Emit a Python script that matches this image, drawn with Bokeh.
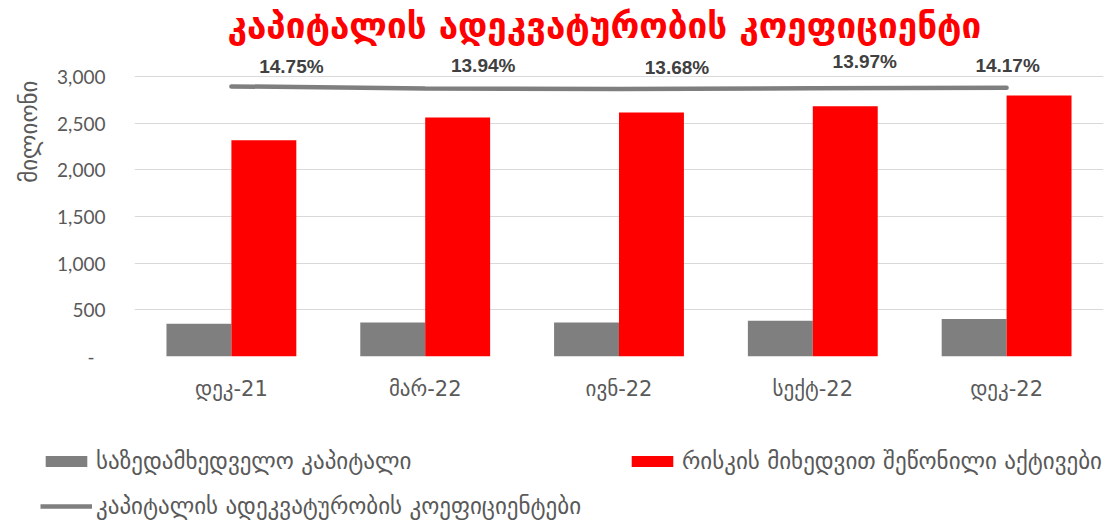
import math
from bokeh.plotting import figure
from bokeh.layouts import column
from bokeh.models import (ColumnDataSource, FactorRange, Range1d, FixedTicker, Legend,
                          LegendItem, LabelSet, Title, NumeralTickFormatter)
from bokeh.transform import dodge
from bokeh.core.properties import value
from bokeh.embed import file_html
from bokeh.resources import INLINE

# ---- data ----
categories = ["დეკ-21", "მარ-22", "ივნ-22", "სექტ-22", "დეკ-22"]
supervisory_capital = [350, 363, 363, 382, 403]
risk_weighted_assets = [2316, 2562, 2615, 2680, 2797]
car_ratio = [14.75, 13.94, 13.68, 13.97, 14.17]
ratio_labels = ["14.75%", "13.94%", "13.68%", "13.97%", "14.17%"]
y_ticks = [0, 500, 1000, 1500, 2000, 2500, 3000]

title_text = "კაპიტალის ადეკვატურობის კოეფიციენტი"
y_label_text = "მილიონი"
series_names = ["საზედამხედველო კაპიტალი",
                "რისკის მიხედვით შეწონილი აქტივები",
                "კაპიტალის ადეკვატურობის კოეფიციენტები"]

# label placement tweaks (pixels)
label_dx = [60, 58, 58, 52, 1]
label_dy = [20, 23, 22, 27, 22]

GEO = "DejaVu Sans"
NUM = "Lato"
TXT = "#595959"
GRAY = "#7f7f7f"
RED = "#ff0000"

src = ColumnDataSource(dict(cat=categories, cap=supervisory_capital, rwa=risk_weighted_assets,
                            ratio=car_ratio, lab=ratio_labels, dx=label_dx, dy=label_dy))

p = figure(width=1117, height=420, x_range=FactorRange(*categories, range_padding=0),
           y_range=Range1d(0, 3300), output_backend="svg", toolbar_location=None,
           min_border_left=132, min_border_right=14, min_border_top=46, min_border_bottom=64)
p.extra_y_ranges = {"ratio": Range1d(-94, 30)}

bw = 0.335
p.vbar(x=dodge("cat", -bw / 2, range=p.x_range), top="cap", width=bw, source=src,
       fill_color=GRAY, line_color=None)
p.vbar(x=dodge("cat", bw / 2, range=p.x_range), top="rwa", width=bw, source=src,
       fill_color=RED, line_color=None)
p.line(x="cat", y="ratio", source=src, y_range_name="ratio", line_width=4.5,
       line_color=GRAY, line_cap="round")

labels = LabelSet(x="cat", y="ratio", text="lab", source=src, y_range_name="ratio",
                  x_offset="dx", y_offset="dy", text_align="center", text_baseline="middle",
                  text_font=value("Liberation Sans"), text_font_style="bold",
                  text_font_size="19px", text_color="#404040")
p.add_layout(labels)

# title
p.title.text = title_text
p.title.align = "left"
p.title.offset = 93
p.title.text_color = RED
p.title.text_font = GEO
p.title.text_font_style = "bold"
p.title.text_font_size = "35px"
p.title.standoff = 6

# axes
p.yaxis.ticker = FixedTicker(ticks=y_ticks)
p.yaxis.formatter = NumeralTickFormatter(format="0,0")
p.yaxis.major_label_overrides = {0: "-\u2007"}
p.yaxis.axis_line_color = None
p.yaxis.major_tick_line_color = None
p.yaxis.minor_tick_line_color = None
p.yaxis.major_tick_out = 0
p.yaxis.major_tick_in = 0
p.yaxis.major_label_standoff = 29
p.yaxis.major_label_text_font = NUM
p.yaxis.major_label_text_font_size = "19px"
p.yaxis.major_label_text_color = TXT

p.xaxis.axis_line_color = None
p.xaxis.major_tick_line_color = None
p.xaxis.minor_tick_line_color = None
p.xaxis.major_tick_out = 0
p.xaxis.major_tick_in = 0
p.xaxis.major_label_standoff = 20
p.xaxis.major_label_text_font = GEO
p.xaxis.major_label_text_font_size = "21px"
p.xaxis.major_label_text_color = TXT

p.xgrid.grid_line_color = None
p.ygrid.grid_line_color = "#d9d9d9"
p.ygrid.grid_line_width = 1
p.outline_line_color = None

ytitle = Title(text=y_label_text, align="right", offset=32, standoff=26, text_font=GEO,
               text_font_size="23px", text_color=TXT, text_font_style="normal")
p.add_layout(ytitle, "left")

# ---- legend strip (separate figure so the legend is not clipped) ----
lg = figure(width=1117, height=104, x_range=FactorRange(*categories), y_range=Range1d(0, 1),
            output_backend="svg", toolbar_location=None, x_axis_location=None,
            y_axis_location=None, min_border_left=0, min_border_right=0,
            min_border_top=0, min_border_bottom=0)
for fig in (p, lg):
    if "frame_align" in fig.properties():
        fig.frame_align = False
lg.grid.visible = False
lg.outline_line_color = None
lg_gray = lg.vbar(x="cat", top="cap", width=0.3, source=src, fill_color=GRAY,
                  line_color=None, visible=False)
lg_red = lg.vbar(x="cat", top="rwa", width=0.3, source=src, fill_color=RED,
                 line_color=None, visible=False)
lg_line = lg.line(x="cat", y="ratio", source=src, line_width=4.5, line_color=GRAY,
                  visible=False)

legend = Legend(items=[LegendItem(label=series_names[0], renderers=[lg_gray]),
                       LegendItem(label=series_names[1], renderers=[lg_red]),
                       LegendItem(label=series_names[2], renderers=[lg_line])],
                location=(40, 5), orientation="horizontal", ncols=2,
                spacing=18, label_width=512, label_height=27, glyph_width=52, glyph_height=14,
                label_standoff=4, padding=0, margin=0, border_line_color=None,
                background_fill_alpha=0, inactive_fill_alpha=0, label_text_font=GEO,
                label_text_font_size="23px", label_text_color=TXT)
lg.add_layout(legend)

layout = column(p, lg, spacing=0)
open("out.html", "w").write(file_html(layout, INLINE))
